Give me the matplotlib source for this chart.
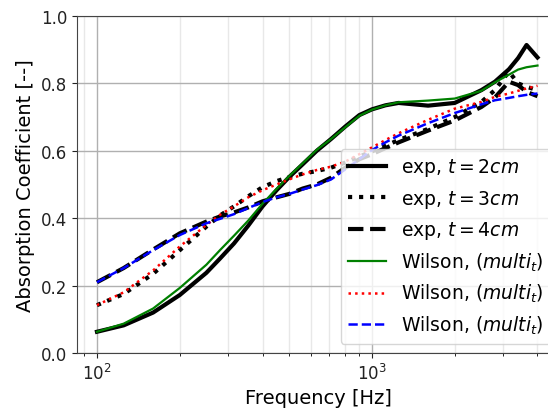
import numpy as np
import matplotlib
matplotlib.use('Agg')
import matplotlib.pyplot as plt

# frequency points [Hz]
freq = [100, 125, 160, 200, 250, 280, 315, 355, 400, 450, 500, 560, 630, 710,
        800, 900, 1000, 1120, 1250, 1600, 2000, 2500, 2800, 3150, 3400, 3650, 4000]

# measured absorption
exp_2cm = [0.063, 0.082, 0.120, 0.172, 0.238, 0.280, 0.325, 0.378, 0.435, 0.483,
           0.522, 0.560, 0.600, 0.635, 0.672, 0.706, 0.723, 0.735, 0.742, 0.734,
           0.742, 0.780, 0.805, 0.842, 0.875, 0.914, 0.877]
exp_3cm = [0.142, 0.175, 0.235, 0.305, 0.375, 0.408, 0.435, 0.465, 0.492, 0.510,
           0.522, 0.532, 0.540, 0.550, 0.565, 0.583, 0.598, 0.615, 0.632, 0.665,
           0.700, 0.745, 0.780, 0.835, 0.800, 0.790, 0.780]
exp_4cm = [0.210, 0.252, 0.307, 0.355, 0.390, 0.405, 0.417, 0.432, 0.450, 0.462,
           0.472, 0.488, 0.500, 0.520, 0.550, 0.575, 0.590, 0.608, 0.625, 0.660,
           0.690, 0.730, 0.758, 0.805, 0.795, 0.775, 0.762]

# Wilson model
wil_2cm = [0.063, 0.087, 0.132, 0.193, 0.262, 0.305, 0.348, 0.393, 0.443, 0.487,
           0.525, 0.563, 0.603, 0.635, 0.670, 0.704, 0.722, 0.735, 0.744, 0.749,
           0.755, 0.778, 0.803, 0.826, 0.841, 0.848, 0.853]
wil_3cm = [0.142, 0.180, 0.245, 0.316, 0.380, 0.410, 0.435, 0.462, 0.483, 0.500,
           0.515, 0.530, 0.543, 0.553, 0.568, 0.590, 0.610, 0.632, 0.652, 0.692,
           0.725, 0.745, 0.760, 0.770, 0.778, 0.785, 0.793]
wil_4cm = [0.210, 0.252, 0.305, 0.350, 0.385, 0.398, 0.412, 0.430, 0.448, 0.462,
           0.472, 0.485, 0.498, 0.515, 0.545, 0.575, 0.602, 0.625, 0.645, 0.682,
           0.712, 0.738, 0.750, 0.757, 0.762, 0.766, 0.770]

fig = plt.figure(figsize=(5.48, 4.10), dpi=100)
ax = fig.add_axes([77/548, 56/410, 483/548, 337/410])

ax.plot(freq, exp_2cm, 'k-', lw=3, label='exp, $t = 2cm$')
ax.plot(freq, exp_3cm, 'k:', lw=3, label='exp, $t = 3cm$')
ax.plot(freq, exp_4cm, 'k--', lw=3, label='exp, $t = 4cm$')
ax.plot(freq, wil_2cm, '-', color='green', lw=1.6, label='Wilson, $(multi_t)$')
ax.plot(freq, wil_3cm, ':', color='red', lw=1.8, label='Wilson, $(multi_t)$')
ax.plot(freq, wil_4cm, '--', color='blue', lw=1.8, label='Wilson, $(multi_t)$')

ax.set_xscale('log')
ax.set_xlim(84.6, 4830)
ax.set_ylim(0, 1)
ax.set_yticks([0, 0.2, 0.4, 0.6, 0.8, 1.0])
ax.grid(which='major', color='#b0b0b0', lw=1)
ax.grid(which='minor', axis='x', color='#e8e8e8', lw=1)
ax.set_axisbelow(True)
for s in ax.spines.values():
    s.set_color('#444444')
ax.tick_params(labelsize=12, colors='#222222')
ax.set_xlabel('Frequency [Hz]', fontsize=14)
ax.set_ylabel('Absorption Coefficient [--]', fontsize=14)
ax.legend(loc='lower right', fontsize=13.5)

fig.savefig('out.png', dpi=100)
